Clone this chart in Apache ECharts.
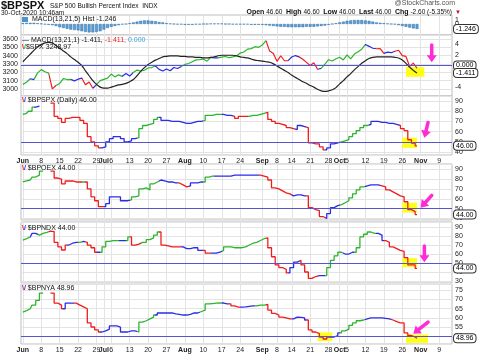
<!DOCTYPE html>
<html><head><meta charset="utf-8">
<script src="https://cdn.jsdelivr.net/npm/echarts@6/dist/echarts.min.js"></script>
<style>html,body{margin:0;padding:0;background:#fff}#c{width:480px;height:357px}</style>
</head><body><div id="c"></div>
<script>
const FONT = 'Liberation Sans';
// ---------------- DATA ----------------
const monthDays = [
  ['2020-06', [1,2,3,4,5,8,9,10,11,12,15,16,17,18,19,22,23,24,25,26,29,30]],
  ['2020-07', [1,2,6,7,8,9,10,13,14,15,16,17,20,21,22,23,24,27,28,29,30,31]],
  ['2020-08', [3,4,5,6,7,10,11,12,13,14,17,18,19,20,21,24,25,26,27,28,31]],
  ['2020-09', [1,2,3,4,8,9,10,11,14,15,16,17,18,21,22,23,24,25,28,29,30]],
  ['2020-10', [1,2,5,6,7,8,9,12,13,14,15,16,19,20,21,22,23,26,27,28,29,30]],
  ['2020-11', [2,3,4,5,6,9,10,11,12]]
];
const xTickDates = ['2020-06-01','2020-06-08','2020-06-15','2020-06-22','2020-06-29','2020-07-01','2020-07-06','2020-07-13','2020-07-20','2020-07-27','2020-08-03','2020-08-10','2020-08-17','2020-08-24','2020-09-01','2020-09-08','2020-09-14','2020-09-21','2020-09-28','2020-10-01','2020-10-05','2020-10-12','2020-10-19','2020-10-26','2020-11-02','2020-11-09'];
const xTickLabels = ['Jun','8','15','22','29','Jul','6','13','20','27','Aug','10','17','24','Sep','8','14','21','28','Oct','5','12','19','26','Nov','9'];

const spxClose = [3055.7,3080.8,3122.9,3112.4,3193.9,3232.4,3207.2,3190.1,3002.1,3041.3,3066.6,3124.7,3113.5,3115.3,3097.7,3117.9,3131.3,3050.3,3083.8,3009.1,3053.2,3100.3,
 3115.9,3130.0,3179.7,3145.3,3169.9,3152.1,3185.0,3155.2,3197.5,3226.6,3215.6,3224.7,3251.8,3257.3,3276.0,3235.7,3215.6,3239.4,3218.4,3258.4,3246.2,3271.1,
 3294.6,3306.5,3327.8,3349.2,3351.3,3360.5,3333.7,3380.4,3373.4,3372.9,3382.0,3389.8,3374.9,3385.5,3397.2,3431.3,3443.6,3478.7,3484.6,3508.0,3500.3,
 3526.7,3580.8,3455.1,3427.0,3331.8,3399.0,3339.2,3341.0,3383.5,3401.2,3385.5,3357.0,3319.5,3281.1,3315.6,3236.9,3246.6,3298.5,3351.6,3335.5,3363.0,
 3380.8,3348.4,3408.6,3361.0,3419.4,3446.8,3477.1,3534.2,3511.9,3488.7,3483.3,3483.8,3426.9,3443.1,3435.6,3453.5,3465.4,3401.0,3390.7,3271.0,3310.1,3249.0];
const spxImpulse = [['g',3],['b',1],['g',4],['r',2],['g',4],['b',3],['r',3],['b',1],['g',7],['b',3],['g',6],['b',7],['g',8],['b',2],['g',13],['r',6],['b',3],['r',5],['b',1],['g',12],['b',3],['r',2],['b',3],['r',6]];

const macdLine = [0.7,1.4,2.1,2.8,3.4,3.9,4.2,4.3,4.2,3.7,
 3.2,2.7,2.2,1.6,1.1,0.6,0.0,-1.0,-1.9,-2.8,
 -3.5,-4.0,-4.2,-4.2,-4.0,-3.8,-3.6,-3.5,-3.3,-3.0,
 -2.6,-1.9,-1.1,-0.4,0.2,0.6,1.0,1.3,1.6,1.7,
 1.8,1.8,1.8,1.7,1.7,1.6,1.6,1.5,1.5,1.4,
 1.4,1.5,1.6,1.8,1.9,1.9,1.9,1.9,1.8,1.6,
 1.5,1.4,1.2,1.0,0.9,0.8,0.7,0.6,0.3,-0.1,
 -0.5,-0.9,-1.3,-1.8,-2.2,-2.6,-3.0,-3.3,-3.7,-4.0,
 -4.4,-4.7,-4.8,-4.7,-4.5,-4.1,-3.4,-2.8,-2.1,-1.5,
 -0.8,-0.2,0.4,0.9,1.3,1.5,1.6,1.6,1.6,1.6,
 1.6,1.5,1.4,1.0,0.4,-0.3,-0.9,-1.411];
const macdHist = [0.2,0.3,0.3,0.3,0.2,0.1,-0.1,-0.2,-0.3,-0.5,
 -0.8,-1.0,-1.2,-1.4,-1.5,-1.6,-1.8,-2.0,-2.1,-2.1,
 -2.0,-1.8,-1.4,-1.0,-0.7,-0.5,-0.3,-0.1,0.0,0.2,
 0.4,0.6,0.8,0.9,0.9,0.8,0.7,0.5,0.4,0.2,
 0.1,0.0,-0.1,-0.1,-0.2,-0.2,-0.2,-0.1,-0.1,0.0,
 0.0,0.1,0.1,0.1,0.1,0.0,0.0,-0.1,-0.1,-0.1,
 -0.1,-0.1,-0.2,-0.2,-0.2,-0.2,-0.3,-0.4,-0.5,-0.6,
 -0.7,-0.7,-0.8,-0.8,-0.8,-0.8,-0.8,-0.7,-0.7,-0.7,
 -0.6,-0.5,-0.4,-0.2,0.0,0.2,0.4,0.6,0.8,0.9,
 1.0,1.0,1.0,0.9,0.8,0.6,0.4,0.3,0.2,0.1,
 0.0,-0.1,-0.3,-0.5,-0.7,-0.9,-1.1,-1.246];

const bpspx = [77,78,80,84,85,null,null,null,88,75,73,69,73,74,74,74,71,68,55,50,
 46,44,45,50,53,55,55,53,50,51,53,54,63,66,67,68,72,74,71,71,
 70,70,70,69,68,68,69,70,70,71,76,76,77,77,77,76,76,75,73,75,
 75,75,76,76,77,78,79,72,70,68,67,66,64,63,62,66,65,64,49,48,
 48,45,42,44,48,49,50,51,52,55,58,61,64,66,67,70,70,69,69,68,
 68,67,66,63,61,52,48.6,46];
const bpspxImpulse = [['g',4],['b',4],['r',14],['b',10],['g',6],['b',12],['g',5],['b',3],['r',4],['g',5],['r',8],['b',3],['r',5],['b',4],['g',8],['b',8],['r',5]];

const bpoex = [77,78,79,82,84,88,null,null,88,81,80,75,78,78,77,77,77,77,70,62,
 58,52,52,55,62,62,62,58,58,59,62,63,70,71,69,75,77,79,78,77,
 77,76,76,74,72,73,76,76,77,77,82,83,83,83,83,83,83,84,84,84,
 84,84,84,84,84,83,82,79,71,70,68,66,65,63,64,64,63,63,51,49,
 48,42,40,45,51,53,54,56,58,61,65,69,72,73,74,74,74,73,72,69,
 67,65,63,62,57,49,47,44];
const bpoexImpulse = [['g',8],['r',9],['g',1],['r',5],['b',7],['g',8],['b',5],['r',3],['b',4],['g',3],['b',12],['r',9],['b',4],['r',5],['b',4],['g',7],['b',4],['r',10]];

const bpndx = [75.5,77,79,83,81,83,84,85.5,85,73,68,64.5,70,72,73,73,74,73,70,67,
 62,62,68,74,75,75,75,75,75,79,70,71,73,73,76,78,81,84.5,70,69,
 68,68,68,68,66,66,67,67,64,64,61,61,61,62,64,68,68,67,67,67,
 68,70,72,73,75,77,78,67,57,48,45,43,39,45,51,53,48,40,33,35,
 36,36,36,45,53,58,62,60,60,62,62,67,79,82,84.5,83,83,81,75,73,
 68,66,64,63,56,48,48,44];
const bpndxImpulse = [['g',3],['b',2],['g',3],['r',5],['b',3],['g',1],['b',1],['r',3],['b',1],['g',5],['b',2],['g',1],['r',3],['g',5],['r',6],['b',6],['r',2],['b',3],['g',12],['r',6],['b',3],['r',5],['b',2],['g',5],['b',3],['g',6],['b',2],['r',9]];

const bpnya = [63.2,64,65,67,69.5,73.5,null,null,73.5,68,67,65,68,68,68,67,66,65,57.3,55.1,
 53.5,52.4,53,54,55.7,55.7,55.1,52.4,52.4,53,53,52.4,57.8,58.5,59.5,60.5,61.6,62.7,62.7,62.7,
 62.7,62.2,62,61.6,61.6,62,62.7,62.7,63.5,64.3,67.6,67.8,68,68.1,68.1,67.6,67.6,66.5,65.9,65.9,
 66,66.3,66.5,66.5,67,67,67.3,64.3,62.5,61.6,60.5,60,59.5,59.5,60.5,60.3,60,58.9,53.5,52.4,
 51.5,49.7,48.6,49.7,49.7,50.5,51.9,53,54,56,57.3,58.5,58.9,59.5,60,60,60,60,59.8,59.5,
 58.9,58,57.3,57.3,51.9,50.5,49.7,48.96];
const bpnyaImpulse = [['g',8],['r',4],['b',3],['r',7],['b',10],['g',5],['b',12],['g',6],['b',2],['r',3],['b',4],['g',3],['r',7],['b',4],['r',6],['b',3],['g',7],['b',7],['r',7]];

// ---------------- HELPERS ----------------
const dates = [];
monthDays.forEach(([m, ds]) => ds.forEach(d => dates.push(m + '-' + String(d).padStart(2, '0'))));
const tickMap = {};
xTickDates.forEach((d, k) => { tickMap[d] = xTickLabels[k]; });
const isTick = (i, v) => tickMap[v] !== undefined;
const PAL = { g: '#2cb42c', r: '#f01c1c', b: '#2b2be8' };
function expandRuns(runs) { const out = []; runs.forEach(([c, n]) => { for (let k = 0; k < n; k++) out.push(c); }); return out; }
function piecesFrom(colors) {
  const pieces = []; let start = 0;
  for (let i = 1; i <= colors.length; i++) {
    if (i === colors.length || colors[i] !== colors[start]) {
      pieces.push({ gte: start === 0 ? -10 : start - 1, lt: i === colors.length ? 1000 : i - 1, color: PAL[colors[start]] });
      start = i;
    }
  }
  return pieces;
}
const GRID_L = 21, GRID_R = 28;
const grids = [
  { top: 15, height: 20 },   // MACD hist
  { top: 35, height: 61 },   // SPX + MACD
  { top: 96, height: 59 },   // BPSPX
  { top: 164, height: 56 },  // BPOEX
  { top: 222, height: 61 },  // BPNDX
  { top: 284, height: 60 }   // BPNYA
].map(g => Object.assign({ left: GRID_L, right: GRID_R, show: true, borderColor: '#bdbdbd', borderWidth: 1, backgroundColor: '#fff', outerBoundsMode: 'none', containLabel: false }, g));

const lblStyle = { fontSize: 7, fontFamily: FONT, color: '#222' };
function xAxisFor(gi, showLabels) {
  return {
    type: 'category', gridIndex: gi, data: dates, boundaryGap: true,
    axisLine: { show: false }, axisTick: { show: false },
    axisLabel: Object.assign({
      show: showLabels, interval: isTick, margin: 3,
      formatter: (v) => { const t = tickMap[v] || ''; return /^[A-Z]/.test(t) ? '{m|' + t + '}' : t; },
      rich: { m: { fontWeight: 'bold', fontSize: 7, fontFamily: FONT, color: '#222' } }
    }, lblStyle),
    splitLine: { show: true, interval: isTick, alignWithLabel: true, lineStyle: { color: '#e3e3e3', width: 1 } }
  };
}
function yAxisFor(gi, pos, min, max, step, fmt, split) {
  return {
    type: 'value', gridIndex: gi, position: pos, min, max, minInterval: step, maxInterval: step, scale: true,
    axisLine: { show: false }, axisTick: { show: false },
    axisLabel: Object.assign({ showMinLabel: false, showMaxLabel: false, margin: 3, formatter: fmt || (v => String(v)) }, lblStyle),
    splitLine: { show: split !== false, lineStyle: { color: '#e3e3e3', width: 1 } }
  };
}
const boxLabel = (txt) => ({ show: true, position: 'end', distance: 2, formatter: txt, fontSize: 7, fontFamily: FONT, color: '#000', backgroundColor: '#fff', borderColor: '#333', borderWidth: 1, borderRadius: 3, padding: [1, 2, 0, 2] });
function box(v, txt) {
  return { yAxis: v, lineStyle: { color: 'rgba(0,0,0,0)', width: 1 }, label: boxLabel(txt) };
}
const blueLine = (v) => ({ yAxis: v, lineStyle: { color: '#5454d4', width: 1, type: 'solid' }, label: { show: false } });
const YELLOW = { color: '#ffff1a', opacity: 1 };
function bpSeries(name, data, gi, yi, last, lastTxt, areas) {
  return {
    type: 'line', name, data, xAxisIndex: gi, yAxisIndex: yi, step: 'middle', showSymbol: false, connectNulls: false,
    lineStyle: { width: 1.3 }, z: 3,
    markLine: { silent: true, symbol: ['none', 'none'], animation: false, data: [blueLine(50), box(last, lastTxt)] },
    markArea: { silent: true, itemStyle: YELLOW, data: areas }
  };
}

const spxColors = expandRuns(spxImpulse);
const option = {
  animation: false,
  backgroundColor: '#fff',
  textStyle: { fontFamily: FONT },
  grid: grids,
  xAxis: [xAxisFor(0, false), xAxisFor(1, false), xAxisFor(2, true), xAxisFor(3, false), xAxisFor(4, false), xAxisFor(5, true)],
  yAxis: [
    yAxisFor(0, 'right', -2.75, 2.25, 1, v => (v === 1 || v === 0) ? String(v) : '', false),
    yAxisFor(1, 'left', 2916, 3648, 100),
    yAxisFor(1, 'right', -5.65, 5.65, 2, v => (v === 0 || v === -2) ? '' : String(v), false),
    yAxisFor(2, 'right', 37, 95, 10),
    yAxisFor(3, 'right', 38.5, 95.2, 10),
    yAxisFor(4, 'right', 27.8, 95.6, 10),
    yAxisFor(5, 'right', 45.9, 78.4, 5)
  ],
  visualMap: [
    { type: 'piecewise', show: false, dimension: 0, seriesIndex: 1, pieces: piecesFrom(spxColors) },
    { type: 'piecewise', show: false, dimension: 0, seriesIndex: 3, pieces: piecesFrom(expandRuns(bpspxImpulse)) },
    { type: 'piecewise', show: false, dimension: 0, seriesIndex: 4, pieces: piecesFrom(expandRuns(bpoexImpulse)) },
    { type: 'piecewise', show: false, dimension: 0, seriesIndex: 5, pieces: piecesFrom(expandRuns(bpndxImpulse)) },
    { type: 'piecewise', show: false, dimension: 0, seriesIndex: 6, pieces: piecesFrom(expandRuns(bpnyaImpulse)) }
  ],
  series: [
    { type: 'bar', name: 'MACD Hist', data: macdHist, xAxisIndex: 0, yAxisIndex: 0, barWidth: '78%',
      itemStyle: { color: '#5d9fd6', borderColor: '#2f6ea6', borderWidth: 0.5 },
      markLine: { silent: true, symbol: ['none', 'none'], data: [box(-1.246, '-1.246')] } },
    { type: 'line', name: '$SPX', data: spxClose, xAxisIndex: 1, yAxisIndex: 1, showSymbol: false, lineStyle: { width: 1.2 }, z: 2 },
    { type: 'line', name: 'MACD', data: macdLine, xAxisIndex: 1, yAxisIndex: 2, showSymbol: false, smooth: 0.3,
      lineStyle: { width: 1.2, color: '#222' }, itemStyle: { color: '#222' }, z: 4,
      markLine: { silent: true, symbol: ['none', 'none'], data: [Object.assign(blueLine(0), { label: boxLabel('0.000') }), box(-1.411, '-1.411')] },
      markArea: { silent: true, itemStyle: YELLOW, data: [[{ xAxis: 104, yAxis: -0.3 }, { xAxis: 109, yAxis: -2.1 }]] } },
    bpSeries('$BPSPX', bpspx, 2, 3, 46, '46.00', [[{ xAxis: 103, yAxis: 54 }, { xAxis: 107, yAxis: 44 }]]),
    bpSeries('$BPOEX', bpoex, 3, 4, 44, '44.00', [[{ xAxis: 103, yAxis: 56 }, { xAxis: 107, yAxis: 46 }]]),
    bpSeries('$BPNDX', bpndx, 4, 5, 44, '44.00', [[{ xAxis: 103, yAxis: 55.5 }, { xAxis: 107, yAxis: 45.5 }]]),
    bpSeries('$BPNYA', bpnya, 5, 6, 48.96, '48.96', [[{ xAxis: 80, yAxis: 52.2 }, { xAxis: 84, yAxis: 47.5 }], [{ xAxis: 104, yAxis: 51 }, { xAxis: 110, yAxis: 46.5 }]])
  ]
};

const chart = echarts.init(document.getElementById('c'), null, { renderer: 'canvas', width: 480, height: 357 });
chart.setOption(option);

// ---------------- ANNOTATIONS (texts + pink arrows) ----------------
const arrowsData = [
  { s: 2, from: [111, 3.8], to: [111, 0.6] },
  { s: 3, from: [110, 69], to: [109, 54] },
  { s: 4, from: [111, 63.4], to: [108, 51] },
  { s: 5, from: [109, 69], to: [109, 51] },
  { s: 6, from: [110, 57.8], to: [106, 51.4] }
];
const PINK = '#ff2bd6';
function arrowEls(a) {
  const p1 = chart.convertToPixel({ seriesIndex: a.s }, a.from);
  const p2 = chart.convertToPixel({ seriesIndex: a.s }, a.to);
  const ang = Math.atan2(p2[1] - p1[1], p2[0] - p1[0]), L = 7, W = 5;
  const bx = p2[0] - L * Math.cos(ang), by = p2[1] - L * Math.sin(ang);
  const px = -Math.sin(ang), py = Math.cos(ang);
  return [
    { type: 'line', z: 50, shape: { x1: p1[0], y1: p1[1], x2: bx, y2: by }, style: { stroke: PINK, lineWidth: 3.5, lineCap: 'round' } },
    { type: 'polygon', z: 50, shape: { points: [[p2[0], p2[1]], [bx + px * W, by + py * W], [bx - px * W, by - py * W]] }, style: { fill: PINK } }
  ];
}
const T = (x, y, text, extra) => ({ type: 'text', x, y, z: 60, silent: true, style: Object.assign({ text, fontSize: 7, fontFamily: FONT, fill: '#111', verticalAlign: 'top', align: 'left' }, extra || {}) });
const icoRich = {
  ir: { fill: '#f01c1c', fontSize: 7, fontWeight: 'bold' }, ib: { fill: '#2b2be8', fontSize: 7, fontWeight: 'bold' }, ig: { fill: '#2cb42c', fontSize: 7, fontWeight: 'bold' },
  red: { fill: '#f01c1c', fontSize: 7 }, cy: { fill: '#3aa0d8', fontSize: 7 },
  hb: { backgroundColor: '#4f93cc', width: 6, height: 5 }, b: { fontWeight: 'bold', fontSize: 7, fill: '#111' }
};
const texts = [
  T(1, 0, '$BPSPX', { fontSize: 11, fontWeight: 'bold' }),
  T(50, 3, 'S&P 500 Bullish Percent Index  INDX', { fontSize: 6.5 }),
  T(1, 10, '30-Oct-2020 10:46am', { fontSize: 6.5 }),
  T(455, 0, '@StockCharts.com', { fontSize: 7, fill: '#555', align: 'right' }),
  T(452, 9, '{b|Open} 46.60  {b|High} 46.60  {b|Low} 46.00  {b|Last} 46.00  {b|Chg} -2.60 (-5.35%)', { fontSize: 6.5, align: 'right', rich: icoRich }),
  T(455, 9, '▼', { fontSize: 6, fill: '#c8102e' }),
  T(22, 16, '{hb|}  MACD(13,21,5) Hist -1.246', { rich: icoRich }),
  T(22, 37, '— MACD(13,21,1) -1.411, {red|-1.411,} {cy|0.000}', { rich: icoRich }),
  T(22, 43.5, '{ir|\\}{ig|/}$SPX 3248.97', { rich: icoRich }),
  T(22, 97, '{ir|\\}{ib|/} $BPSPX (Daily) 46.00', { rich: icoRich }),
  T(22, 164.5, '{ir|\\}{ib|/} $BPOEX 44.00', { rich: icoRich }),
  T(22, 225, '{ir|\\}{ib|/} $BPNDX 44.00', { rich: icoRich }),
  T(22, 285, '{ir|\\}{ib|/} $BPNYA 48.96', { rich: icoRich })
];
let arrows = [];
arrowsData.forEach(a => { arrows = arrows.concat(arrowEls(a)); });
chart.setOption({ graphic: texts.concat(arrows) });
</script></body></html>
